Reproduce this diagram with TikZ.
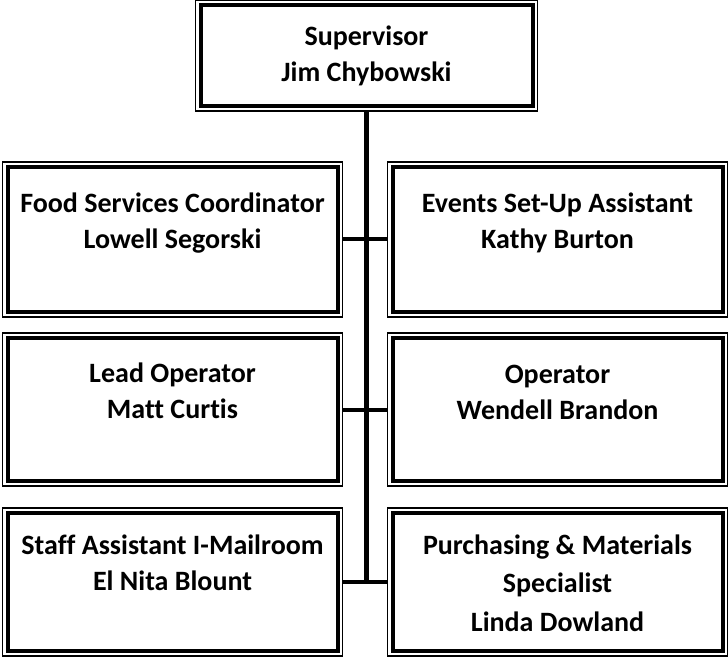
\documentclass[tikz,border=0pt]{standalone}
\usepackage{fontspec}
\setmainfont{Carlito}[Ligatures=NoCommon]
\usepackage{tikz}
\tikzset{
  orgbox/.style={draw, line width=4pt, minimum width=330pt, inner sep=0pt, outer sep=5pt},
  orgtext/.style={anchor=north, yshift=-31pt, align=center, inner sep=0pt,
    font=\fontsize{28}{36}\selectfont\bfseries},
  thinframe/.style={line width=1.3pt},
  trunk/.style={line width=5pt},
  conn/.style={line width=4pt}
}
\begin{document}
\begin{tikzpicture}[x=1pt,y=1pt]
  \useasboundingbox (0,0) rectangle (728,657);
  \node[orgbox, minimum width=332pt, minimum height=101pt,
    label={[orgtext, yshift=5.5pt]north:{Supervisor\\Jim Chybowski}}] (sup) at (366.5,601.5) {};
  \node[orgbox, minimum height=145pt,
    label={[orgtext]north:{Food Services Coordinator\\Lowell Segorski}}] (food) at (172.5,417.5) {};
  \node[orgbox, minimum height=145pt,
    label={[orgtext]north:{Events Set-Up Assistant\\Kathy Burton}}] (events) at (557.5,417.5) {};
  \node[orgbox, minimum height=143pt,
    label={[orgtext, yshift=1.5pt]north:{Lead Operator\\Matt Curtis}}] (lead) at (172.5,247.5) {};
  \node[orgbox, minimum height=143pt,
    label={[orgtext, yshift=-0.5pt]north:{Operator\\Wendell Brandon}}] (oper) at (557.5,247.5) {};
  \node[orgbox, minimum height=138pt,
    label={[orgtext, yshift=4.5pt]north:{Staff Assistant I-Mailroom\\El Nita Blount}}] (staff) at (172.5,75) {};
  \node[orgbox, minimum height=138pt,
    label={[orgtext, yshift=4.5pt, font=\fontsize{28}{38.5}\selectfont\bfseries]north:{Purchasing \& Materials\\Specialist\\Linda Dowland}}] (purch) at (557.5,75) {};
  \foreach \n in {sup,food,events,lead,oper,staff,purch}
    \draw[thinframe] (\n.north west) rectangle (\n.south east);
  \draw[trunk] (sup.south) -- (sup.south |- staff.east);
  \foreach \l/\r in {food/events,lead/oper,staff/purch}
    \draw[conn] (\l.east) -- (\r.west);
\end{tikzpicture}
\end{document}
